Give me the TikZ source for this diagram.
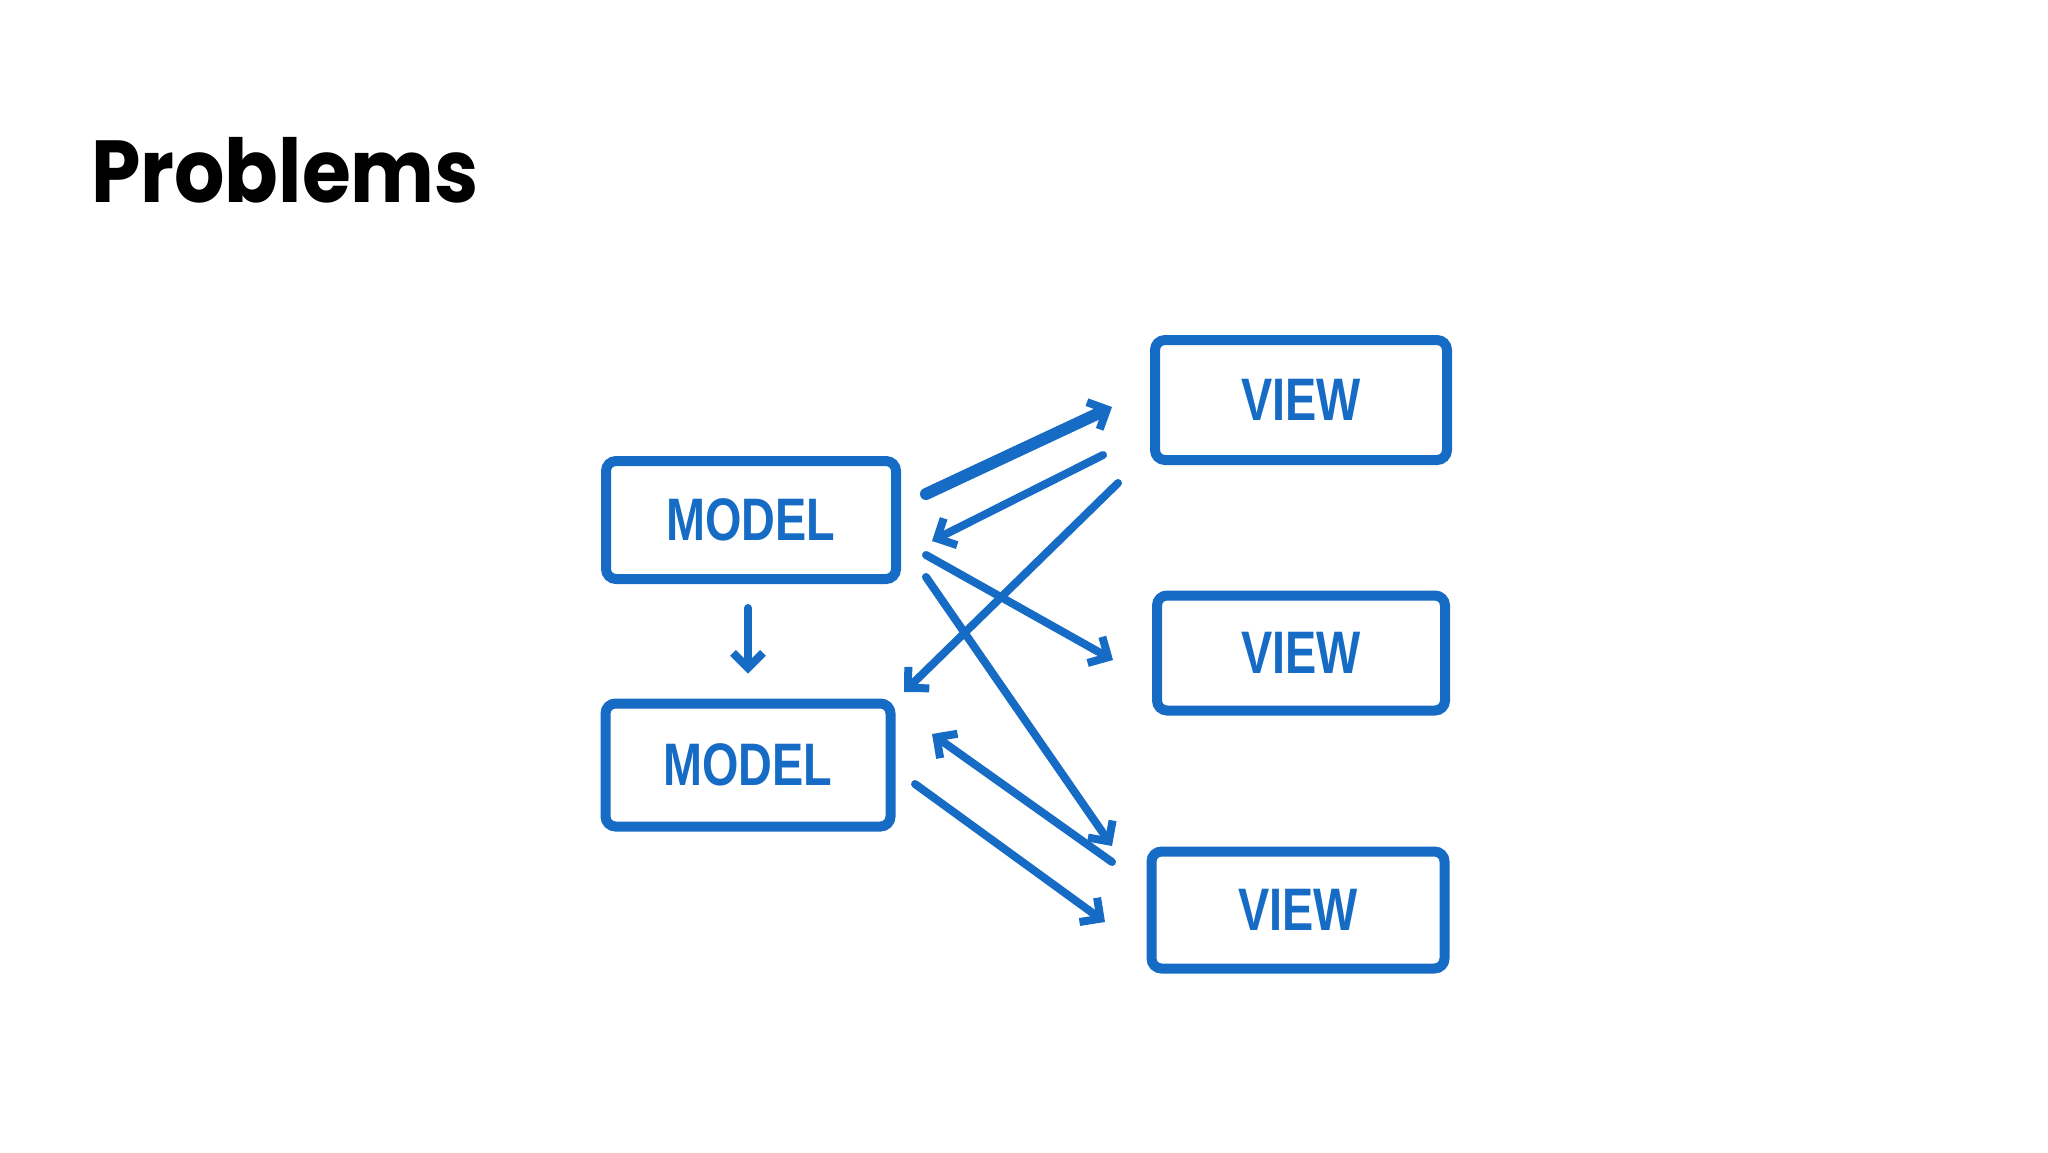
\documentclass[tikz,border=0pt]{standalone}
\usepackage{fontspec}
\setmainfont{Liberation Sans}
\newfontfamily\titlefont{Poppins}
\usetikzlibrary{arrows.meta,calc}
\definecolor{sketchblue}{RGB}{22,108,196}
\tikzset{
  box/.style={draw=sketchblue, line width=10pt, rounded corners=10pt, inner sep=0pt, text=sketchblue, font=\bfseries\fontsize{60}{60}\selectfont},
  link/.style={draw=sketchblue, line width=8pt, line cap=round, -{Straight Barb[length=15pt,width=30pt,line width=8pt]}},
}
\begin{document}
\begin{tikzpicture}[x=1pt,y=-1pt]
\useasboundingbox (0,0) rectangle (2048,1152);
\node[anchor=base west, font=\titlefont\bfseries\fontsize{88}{88}\selectfont, inner sep=0pt] (title) at (91,202) {\scalebox{0.9}[1]{Problems}};
\node[box, minimum width=290pt, minimum height=118pt] (m1) at (751,520) {\scalebox{0.78}[1]{MODEL}};
\node[box, minimum width=285pt, minimum height=123pt] (m2) at (748,765) {\scalebox{0.78}[1]{MODEL}};
\node[box, minimum width=292pt, minimum height=120pt] (v1) at (1301,400) {\scalebox{0.78}[1]{VIEW}};
\node[box, minimum width=288pt, minimum height=115pt] (v2) at (1301,653) {\scalebox{0.78}[1]{VIEW}};
\node[box, minimum width=293pt, minimum height=117pt] (v3) at (1298,910) {\scalebox{0.78}[1]{VIEW}};
\draw[link, line width=12pt] ($(m1.east)+(25,-26)$) -- ($(v1.west)+(-38,7)$);
\draw[link] ($(v1.west)+(-47,55)$) -- ($(m1.east)+(31,21)$);
\draw[link] ($(v1.west)+(-32,83)$) -- ($(m2.east)+(8.5,-73)$);
\draw[link] ($(m1.east)+(25,35)$) -- ($(v2.west)+(-39,7)$);
\draw[link] ($(m1.east)+(25,57)$) -- ($(v3.west)+(-34.5,-64)$);
\draw[link] ($(v3.west)+(-34.5,-48)$) -- ($(m2.east)+(36.5,-31)$);
\draw[link] ($(m2.east)+(19.5,19)$) -- ($(v3.west)+(-41.5,12)$);
\draw[link] ($(m1.south)+(-3,24)$) -- ($(m2.north)+(0,-25)$);
\end{tikzpicture}
\end{document}
